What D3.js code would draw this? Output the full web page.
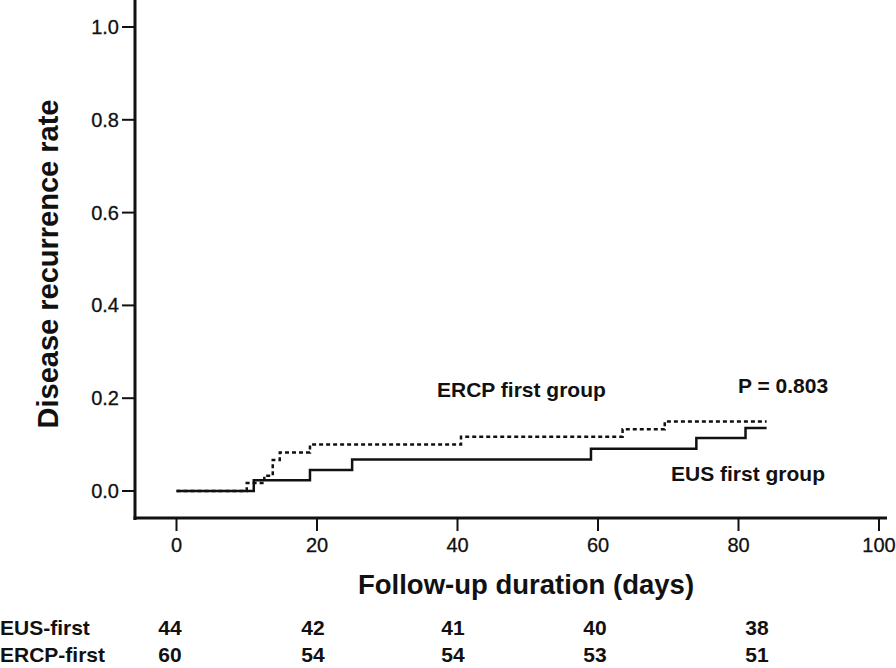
<!DOCTYPE html>
<html>
<head>
<meta charset="utf-8">
<script src="https://cdn.jsdelivr.net/npm/d3@7"></script>
<style>
  body { margin: 0; background: #fff; }
  svg { display: block; }
  text { font-family: "Liberation Sans", Arial, sans-serif; fill: #111; }
</style>
</head>
<body>
<div id="chart"></div>
<script>
// Kaplan-Meier style step data (days, cumulative recurrence rate)
var eusDays  = [0, 11, 19, 25, 59, 74, 81, 84];
var eusRate  = [0, 0.023, 0.045, 0.068, 0.091, 0.114, 0.136, 0.136];
var ercpDays = [0, 10, 12.5, 13.7, 14.7, 19, 40.5, 63.5, 69.5, 84];
var ercpRate = [0, 0.017, 0.033, 0.067, 0.083, 0.100, 0.117, 0.133, 0.150, 0.150];

var xTicks = [0, 20, 40, 60, 80, 100];
var yTicks = [0, 0.2, 0.4, 0.6, 0.8, 1.0];

// numbers at risk
var riskGroups = ["EUS-first", "ERCP-first"];
var riskEus  = [44, 42, 41, 40, 38];
var riskErcp = [60, 54, 54, 53, 51];

function draw() {
    var cfg = { w: 896, h: 668, axisX: 135, axisY: 518 };
    var riskColX = [170, 313, 453, 595, 757];

    var svg = d3.select("#chart").append("svg")
        .attr("width", cfg.w)
        .attr("height", cfg.h);

    var x = d3.scaleLinear().domain([0, 100]).range([176.5, 879]);
    var y = d3.scaleLinear().domain([0, 1]).range([491, 27]);

    // y axis
    svg.append("line")
        .attr("x1", cfg.axisX).attr("x2", cfg.axisX)
        .attr("y1", 0).attr("y2", cfg.axisY + 2)
        .attr("stroke", "#111").attr("stroke-width", 3);

    var yg = svg.append("g");
    yg.selectAll("line").data(yTicks).enter().append("line")
        .attr("x1", cfg.axisX - 13).attr("x2", cfg.axisX)
        .attr("y1", function(d) { return y(d); })
        .attr("y2", function(d) { return y(d); })
        .attr("stroke", "#111").attr("stroke-width", 2);
    yg.selectAll("text").data(yTicks).enter().append("text")
        .attr("x", cfg.axisX - 16)
        .attr("y", function(d) { return y(d) + 7; })
        .attr("text-anchor", "end")
        .style("font-size", "20px")
        .style("stroke", "#111").style("stroke-width", 0.3)
        .text(function(d) { return d3.format(".1f")(d); });

    // x axis
    svg.append("line")
        .attr("x1", cfg.axisX - 1.5).attr("x2", 887)
        .attr("y1", cfg.axisY).attr("y2", cfg.axisY)
        .attr("stroke", "#111").attr("stroke-width", 3);

    var xg = svg.append("g");
    xg.selectAll("line").data(xTicks).enter().append("line")
        .attr("x1", function(d) { return x(d); })
        .attr("x2", function(d) { return x(d); })
        .attr("y1", cfg.axisY).attr("y2", cfg.axisY + 13)
        .attr("stroke", "#111").attr("stroke-width", 2);
    xg.selectAll("text").data(xTicks).enter().append("text")
        .attr("x", function(d) { return x(d); })
        .attr("y", 552)
        .attr("text-anchor", "middle")
        .style("font-size", "20px")
        .style("stroke", "#111").style("stroke-width", 0.3)
        .text(function(d) { return d; });

    // axis titles
    svg.append("text")
        .attr("transform", "translate(58,264) rotate(-90)")
        .attr("text-anchor", "middle")
        .style("font-size", "29px")
        .style("font-weight", "bold")
        .text("Disease recurrence rate");

    svg.append("text")
        .attr("x", 526).attr("y", 594)
        .attr("text-anchor", "middle")
        .style("font-size", "27.5px")
        .style("font-weight", "bold")
        .text("Follow-up duration (days)");

    // step curves
    var line = d3.line()
        .x(function(d) { return x(d[0]); })
        .y(function(d) { return y(d[1]); })
        .curve(d3.curveStepAfter);

    svg.append("path")
        .datum(d3.zip(ercpDays, ercpRate))
        .attr("d", line)
        .attr("fill", "none")
        .attr("stroke", "#111")
        .attr("stroke-width", 2.5)
        .attr("stroke-dasharray", "4,3");

    svg.append("path")
        .datum(d3.zip(eusDays, eusRate))
        .attr("d", line)
        .attr("fill", "none")
        .attr("stroke", "#111")
        .attr("stroke-width", 2.5);

    // annotations
    svg.append("text")
        .attr("x", 437).attr("y", 397)
        .style("font-size", "21px").style("font-weight", "bold")
        .text("ERCP first group");
    svg.append("text")
        .attr("x", 738).attr("y", 393)
        .style("font-size", "21px").style("font-weight", "bold")
        .text("P = 0.803");
    svg.append("text")
        .attr("x", 671).attr("y", 481)
        .style("font-size", "21px").style("font-weight", "bold")
        .text("EUS first group");

    // numbers at risk table
    var rows = [riskEus, riskErcp];
    var rowY = [635, 662];
    var table = svg.append("g")
        .style("font-weight", "bold")
        .style("font-size", "21px");

    table.selectAll("text.grp").data(riskGroups).enter().append("text")
        .attr("class", "grp")
        .attr("x", 0)
        .attr("y", function(d, i) { return rowY[i]; })
        .text(function(d) { return d; });

    rows.forEach(function(vals, r) {
        table.selectAll("text.r" + r).data(vals).enter().append("text")
            .attr("class", "r" + r)
            .attr("x", function(d, i) { return riskColX[i]; })
            .attr("y", rowY[r])
            .attr("text-anchor", "middle")
            .text(function(d) { return d; });
    });
}

window.onload = draw;
</script>
</body>
</html>
